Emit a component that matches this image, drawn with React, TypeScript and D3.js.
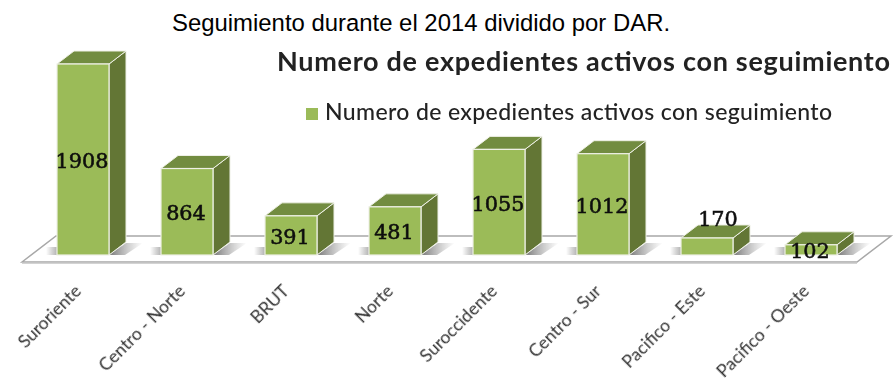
import React from "react";
import * as d3 from "d3";

const categories = ["Suroriente", "Centro - Norte", "BRUT", "Norte", "Suroccidente", "Centro - Sur", "Pacifico - Este", "Pacifico - Oeste"];
const values = [1908, 864, 391, 481, 1055, 1012, 170, 102];
const pageTitle = "Seguimiento durante el 2014 dividido por DAR.";
const chartTitle = "Numero de expedientes activos con seguimiento";

const W = 894, H = 378, BASE = 255, DX = 17, DY = -13;
const x = d3.scaleBand<string>().domain(categories).range([31, 863]).paddingInner(0.5).paddingOuter(0.25);
const y = d3.scaleLinear().domain([0, 1908]).range([BASE, 64]);
const poly = (p: number[][]) => p.map((q) => q.join(",")).join(" ");
const calibri = "Lato, Carlito, 'Open Sans', sans-serif";

export default function App() {
  const bw = x.bandwidth();
  return (
    <svg width={W} height={H} style={{ position: "absolute", left: 0, top: 0, background: "#fff" }}>
      <defs>
        <filter id="soft" x="-5%" y="-20%" width="110%" height="140%"><feGaussianBlur stdDeviation="0.45" /></filter>
        <filter id="softBar" x="-5%" y="-5%" width="110%" height="110%"><feGaussianBlur stdDeviation="0.35" /></filter>
        <linearGradient id="shadowR" x1="0" x2="1" y1="0" y2="0">
          <stop offset="0.1" stopColor="#888" /><stop offset="1" stopColor="#aaa" stopOpacity="0" />
        </linearGradient>
        <linearGradient id="shadowL" x1="0" x2="1" y1="0" y2="0">
          <stop offset="0" stopColor="#aaa" stopOpacity="0" /><stop offset="1" stopColor="#aaa" stopOpacity="0.9" />
        </linearGradient>
      </defs>
      <text x={172} y={31} fontFamily="'Liberation Sans', Arial, sans-serif" fontSize={23.9} fill="#000">{pageTitle}</text>
      <text x={277} y={71} fontFamily={calibri} fontWeight={700} fontSize={27} textLength={613} lengthAdjust="spacing" fill="#222" filter="url(#soft)">{chartTitle}</text>
      <rect x={306} y={108} width={12} height={12} fill="#9BBB59" />
      <text x={325} y={120} fontFamily={calibri} fontWeight={500} fontSize={23} textLength={507} lengthAdjust="spacing" fill="#222" filter="url(#soft)">{chartTitle}</text>

      <polygon points={poly([[22, 262], [56, 236], [891, 236], [857, 262]])} fill="#fff" stroke="#a8a8a8" strokeWidth={1.5} />
      <line x1={22} x2={857} y1={263} y2={263} stroke="#c4c4c4" strokeWidth={1.5} />

      {categories.map((c, i) => {
        const x0 = x(c)!;
        const top = y(values[i]);
        const x1 = x0 + bw;
        return (
          <g key={c} filter="url(#softBar)">
            <polygon points={poly([[x1, BASE], [x1 + DX, BASE - 12], [x1 + 34, BASE - 12], [x1 + 16, BASE]])} fill="url(#shadowR)" />
            <rect x={x0 - 11} y={BASE - 8} width={11} height={8} fill="url(#shadowL)" />
            <polygon points={poly([[x1, top], [x1 + DX, top + DY], [x1 + DX, BASE + DY], [x1, BASE]])} fill="#637636" stroke="#eef0e6" strokeWidth={1} />
            <polygon points={poly([[x0, top], [x0 + DX, top + DY], [x1 + DX, top + DY], [x1, top]])} fill="#728C3F" stroke="#eef0e6" strokeWidth={1} />
            <rect x={x0} y={top} width={bw} height={BASE - top} fill="#9BBB59" stroke="#eef0e6" strokeWidth={1.2} />
          </g>
        );
      })}

      {categories.map((c, i) => {
        const cx = x(c)! + bw / 2;
        const cy = (y(values[i]) + BASE) / 2;
        const above = values[i] === 170;
        return (
          <text key={c} x={above ? cx + 11 : cx - 1} y={(above ? cy - 28 : cy + 1)} dy="0.36em" textAnchor="middle"
            fontFamily="'DejaVu Serif', serif" fontSize={20.8} fill="#0a0a0a" stroke="#0a0a0a" strokeWidth={0.5} filter="url(#soft)">{values[i]}</text>
        );
      })}

      {categories.map((c) => {
        const cx = x(c)! + bw / 2 - 5;
        return (
          <text key={c} transform={`translate(${cx},${288}) rotate(-45)`} textAnchor="end" dy="0.35em"
            fontFamily={calibri} fontSize={17.6} fill="#333" filter="url(#soft)">{c}</text>
        );
      })}
    </svg>
  );
}
